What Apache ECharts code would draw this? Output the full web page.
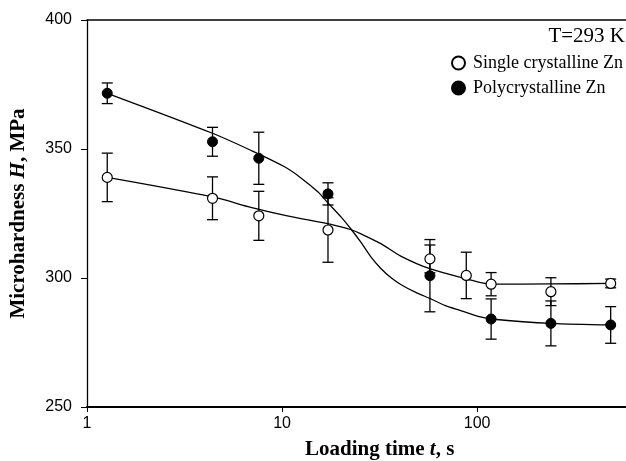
<!DOCTYPE html>
<html>
<head>
<meta charset="utf-8">
<script src="https://cdn.jsdelivr.net/npm/echarts@6/dist/echarts.min.js"></script>
<style>
  html, body { margin: 0; padding: 0; background: #fff; }
  #chart { width: 626px; height: 461px; }
</style>
</head>
<body>
<div id="chart"></div>
<script>
// Microhardness vs loading time, Zn at 293 K

// measured points (t in s, H in MPa, +- error)
const singleTime = [1.27, 4.4, 7.6, 17.2, 57.3, 88, 118, 239, 484];
const singleH = [339.0, 330.9, 324.1, 318.6, 307.4, 301.0, 297.6, 294.7, 297.9];
const singleErr = [9.4, 8.3, 9.5, 12.5, 5.4, 9.0, 4.5, 5.4, 1.7];

const polyTime = [1.27, 4.4, 7.6, 17.2, 57.3, 118, 239, 484];
const polyH = [371.6, 352.8, 346.4, 332.6, 300.9, 284.1, 282.4, 281.8];
const polyErr = [4.0, 5.6, 10.1, 4.3, 14.0, 7.8, 8.7, 7.1];

// fitted curves
const singleFitTime = [1.27, 4.4, 7.0, 10.5, 17.1, 20.1, 22.6, 25.4, 32.1, 40.6, 57.2, 88, 118, 239, 484];
const singleFitH = [339.0, 331.4, 327.3, 324.2, 321.1, 319.8, 318.7, 317.1, 313.3, 308.5, 303.6, 299.7, 297.6, 297.7, 297.9];

const polyFitTime = [1.27, 4.4, 7.0, 10.3, 12.5, 15.3, 17.1, 20.1, 22.6, 25.4, 28.6, 32.1, 36.1, 40.6, 48.5, 57.2, 68.9, 82.3, 104, 118, 239, 484];
const polyFitH = [371.6, 356.1, 349.3, 343.1, 338.8, 333.3, 329.3, 323.6, 318.9, 313.8, 308.1, 303.7, 300.2, 297.5, 294.4, 292.1, 289.3, 287.4, 284.9, 284.1, 282.4, 281.8];

const xTicks = [1, 10, 100];
const yTicks = [250, 300, 350, 400];

const SERIF = 'Liberation Serif';
const SANS = 'Liberation Sans';

const pairs = (xs, ys) => xs.map((x, i) => [x, ys[i]]);
const errRows = (xs, ys, es) => xs.map((x, i) => [x, ys[i] - es[i], ys[i] + es[i]]);

function errorBarItem(params, api) {
  const x = api.value(0);
  const lo = api.coord([x, api.value(1)]);
  const hi = api.coord([x, api.value(2)]);
  const cap = 5.5;
  const style = { stroke: '#000', lineWidth: 1.3 };
  return {
    type: 'group',
    children: [
      { type: 'line', shape: { x1: hi[0], y1: hi[1], x2: lo[0], y2: lo[1] }, style },
      { type: 'line', shape: { x1: hi[0] - cap, y1: hi[1], x2: hi[0] + cap, y2: hi[1] }, style },
      { type: 'line', shape: { x1: lo[0] - cap, y1: lo[1], x2: lo[0] + cap, y2: lo[1] }, style }
    ]
  };
}

const chart = echarts.init(document.getElementById('chart'), null, { renderer: 'canvas' });
chart.setOption({
  animation: false,
  backgroundColor: '#fff',
  grid: { left: 85, top: 20, right: 0, bottom: 54 },
  legend: {
    orient: 'vertical',
    left: 451,
    top: 54,
    padding: 0,
    itemWidth: 13,
    itemHeight: 13,
    itemGap: 7,
    textStyle: { fontFamily: SERIF, fontSize: 18, color: '#000', padding: [0, 0, 0, 3] },
    data: ['Single crystalline Zn', 'Polycrystalline Zn']
  },
  graphic: [
    {
      type: 'text', right: 1, top: 26,
      style: { text: 'T=293 K', fontFamily: SERIF, fontSize: 21, fill: '#000' }
    },
    {
      type: 'text', left: 305, top: 439,
      style: {
        text: '{b|Loading time }{bi|t}{b|, s}',
        rich: {
          b: { fontFamily: SERIF, fontSize: 21, fontWeight: 'bold', fill: '#000' },
          bi: { fontFamily: SERIF, fontSize: 21, fontWeight: 'bold', fontStyle: 'italic', fill: '#000' }
        }
      }
    }
  ],
  xAxis: [
    {
      type: 'log', logBase: 10, min: 1, max: 580,
      axisLine: { lineStyle: { color: '#000', width: 2 } },
      axisTick: { show: true, length: 5, customValues: xTicks, lineStyle: { color: '#000', width: 1 } },
      axisLabel: { customValues: xTicks, margin: 9, fontFamily: SANS, fontSize: 16, color: '#000' },
      splitLine: { show: false },
      minorTick: { show: false }
    },
    {
      type: 'log', logBase: 10, min: 1, max: 580, position: 'top',
      axisLine: { lineStyle: { color: '#000', width: 1.5 } },
      axisTick: { show: false },
      axisLabel: { show: false },
      splitLine: { show: false }
    }
  ],
  yAxis: {
    type: 'value', min: 250, max: 400, interval: 50,
    name: '{b|Microhardness }{bi|H}{b|, MPa}',
    nameLocation: 'middle',
    nameGap: 58,
    nameTextStyle: {
      rich: {
        b: { fontFamily: SERIF, fontSize: 21, fontWeight: 'bold', color: '#000' },
        bi: { fontFamily: SERIF, fontSize: 21, fontWeight: 'bold', fontStyle: 'italic', color: '#000' }
      }
    },
    axisLine: { show: true, lineStyle: { color: '#000', width: 1.3 } },
    axisTick: { show: true, length: 6, lineStyle: { color: '#000', width: 1 } },
    axisLabel: { margin: 15, fontFamily: SANS, fontSize: 16, color: '#000', customValues: yTicks },
    splitLine: { show: false }
  },
  series: [
    {
      name: 'single fit', type: 'line', data: pairs(singleFitTime, singleFitH),
      symbol: 'none', smooth: 0.3,
      lineStyle: { color: '#000', width: 1.3 }, z: 2
    },
    {
      name: 'poly fit', type: 'line', data: pairs(polyFitTime, polyFitH),
      symbol: 'none', smooth: 0.3,
      lineStyle: { color: '#000', width: 1.3 }, z: 2
    },
    {
      name: 'single err', type: 'custom', renderItem: errorBarItem,
      encode: { x: 0, y: [1, 2] }, data: errRows(singleTime, singleH, singleErr), z: 3
    },
    {
      name: 'poly err', type: 'custom', renderItem: errorBarItem,
      encode: { x: 0, y: [1, 2] }, data: errRows(polyTime, polyH, polyErr), z: 3
    },
    {
      name: 'Single crystalline Zn', type: 'scatter', data: pairs(singleTime, singleH),
      symbol: 'circle', symbolSize: 10,
      itemStyle: { color: '#fff', borderColor: '#000', borderWidth: 1.2, opacity: 1 }, z: 5
    },
    {
      name: 'Polycrystalline Zn', type: 'scatter', data: pairs(polyTime, polyH),
      symbol: 'circle', symbolSize: 10,
      itemStyle: { color: '#000', borderColor: '#000', borderWidth: 1, opacity: 1 }, z: 5
    }
  ]
});
</script>
</body>
</html>
